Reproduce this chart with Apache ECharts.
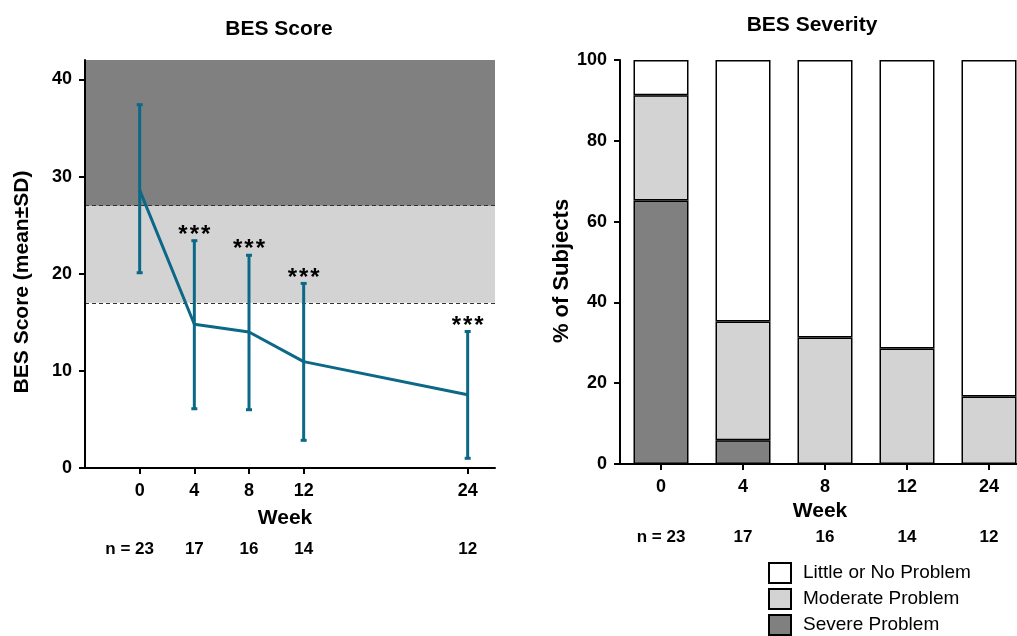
<!DOCTYPE html>
<html>
<head>
<meta charset="utf-8">
<script src="https://cdn.jsdelivr.net/npm/echarts@6/dist/echarts.js"></script>
<style>
html,body{margin:0;padding:0;background:#fff;}
#chart{width:1017px;height:636px;}
#err{position:absolute;left:0;top:0;font:11px monospace;white-space:pre-wrap;width:1000px;color:red;}
</style>
</head>
<body>
<div id="chart"></div>
<div id="err"></div>
<script>
window.onerror = function(msg, src, line, col, e){ document.getElementById('err').textContent += (e && e.stack) || msg; };
// ---- data ----
const weeks = [0, 4, 8, 12, 24];
const weekLabels = ['0', '4', '8', '12', '24'];
const nLabels = ['n = 23', '17', '16', '14', '12'];
const meanScore = [28.6, 14.8, 14.0, 10.95, 7.55];
const sdLow = [20.1, 6.1, 6.0, 2.85, 1.0];
const sdHigh = [37.4, 23.4, 21.9, 19.0, 14.05];
const stars = ['', '***', '***', '***', '***'];
const moderateBand = [17, 27];
const severeBand = [27, 42];
const scoreTicks = [0, 10, 20, 30, 40];
const severe = [65.2, 5.9, 0, 0, 0];
const moderate = [26.1, 29.4, 31.3, 28.6, 16.7];
const little = [8.7, 64.7, 68.7, 71.4, 83.3];
const legendNames = ['Little or No Problem', 'Moderate Problem', 'Severe Problem'];

const FONT = '"Liberation Sans", Arial, Helvetica, sans-serif';
const TEAL = '#0b6886';
const DARK = '#808080';
const LIGHT = '#d3d3d3';

const chart = echarts.init(document.getElementById('chart'), null, {renderer: 'canvas'});

const boldText = (size) => ({fontFamily: FONT, fontWeight: 'bold', fontSize: size, color: '#000'});

const option = {
  animation: false,
  backgroundColor: '#fff',
  textStyle: {fontFamily: FONT},
  title: [
    {text: 'BES Score', left: 274, top: 14, textAlign: 'center', textStyle: boldText(21)},
    {text: 'BES Severity', left: 807, top: 10, textAlign: 'center', textStyle: boldText(21)}
  ],
  legend: {
    data: legendNames,
    orient: 'vertical',
    left: 768,
    top: 562,
    height: 80,
    padding: 0,
    itemWidth: 22,
    itemHeight: 20,
    itemGap: 4,
    icon: 'rect',
    itemStyle: {borderColor: '#000', borderWidth: 2},
    textStyle: {fontFamily: FONT, fontSize: 19, lineHeight: 20, color: '#000', padding: [0, 0, 0, 7]}
  },
  grid: [
    {left: 85, top: 60, width: 410, height: 408, containLabel: false, outerBoundsMode: 'none'},
    {left: 620, top: 60, width: 410, height: 404, containLabel: false, outerBoundsMode: 'none'}
  ],
  xAxis: [
    {
      gridIndex: 0, type: 'value', min: -4, max: 26, interval: 4, z: 10,
      name: 'Week', nameLocation: 'middle', nameGap: 40,
      nameTextStyle: Object.assign(boldText(21), {padding: [0, 10, 0, 0]}),
      axisLine: {show: true, onZero: false, lineStyle: {color: '#000', width: 2}},
      axisTick: {show: true, length: 6, customValues: weeks, lineStyle: {color: '#000', width: 2}},
      axisLabel: Object.assign(boldText(18), {margin: 14, customValues: weeks}),
      splitLine: {show: false}
    },
    {
      gridIndex: 0, type: 'value', min: -4, max: 26, interval: 4, position: 'bottom', offset: 61,
      axisLine: {show: false}, axisTick: {show: false}, splitLine: {show: false},
      axisLabel: Object.assign(boldText(17), {
        margin: 12, customValues: weeks,
        formatter: (v) => {
          const i = weeks.indexOf(v);
          if (i < 0) return '';
          return i === 0 ? '{s|' + nLabels[i] + '}' : nLabels[i];
        },
        rich: {s: Object.assign(boldText(17), {padding: [0, 20, 0, 0]})}
      })
    },
    {
      gridIndex: 1, type: 'category', data: weekLabels, boundaryGap: true, z: 10,
      name: 'Week', nameLocation: 'middle', nameGap: 32,
      nameTextStyle: Object.assign(boldText(21), {padding: [0, 10, 0, 0]}),
      axisLine: {show: true, onZero: false, lineStyle: {color: '#000', width: 2}},
      axisTick: {show: true, alignWithLabel: true, length: 6, lineStyle: {color: '#000', width: 2}},
      axisLabel: Object.assign(boldText(18), {margin: 14}),
      splitLine: {show: false}
    },
    {
      gridIndex: 1, type: 'category', data: nLabels, position: 'bottom', offset: 53,
      axisLine: {show: false}, axisTick: {show: false}, splitLine: {show: false},
      axisLabel: Object.assign(boldText(17), {margin: 12})
    }
  ],
  yAxis: [
    {
      gridIndex: 0, type: 'value', min: 0, max: 42, interval: 10, z: 10,
      name: 'BES Score (mean±SD)', nameLocation: 'middle', nameGap: 52,
      nameTextStyle: Object.assign(boldText(21), {padding: [0, 36, 0, 0]}),
      axisLine: {show: true, onZero: false, lineStyle: {color: '#000', width: 2}},
      axisTick: {show: true, length: 6, customValues: scoreTicks, lineStyle: {color: '#000', width: 2}},
      axisLabel: Object.assign(boldText(18), {margin: 13, customValues: scoreTicks}),
      splitLine: {show: false}
    },
    {
      gridIndex: 1, type: 'value', min: 0, max: 100, interval: 20, z: 10,
      name: '% of Subjects', nameLocation: 'middle', nameGap: 46,
      nameTextStyle: Object.assign(boldText(22), {padding: [0, 18, 0, 0]}),
      axisLine: {show: true, onZero: false, lineStyle: {color: '#000', width: 2}},
      axisTick: {show: true, length: 6, lineStyle: {color: '#000', width: 2}},
      axisLabel: Object.assign(boldText(18), {margin: 13}),
      splitLine: {show: false}
    }
  ],
  series: [
    {
      name: 'bands', type: 'line', xAxisIndex: 0, yAxisIndex: 0, data: [], z: 1,
      silent: true,
      markArea: {
        silent: true,
        data: [
          [{yAxis: moderateBand[0], itemStyle: {color: LIGHT}}, {yAxis: moderateBand[1]}],
          [{yAxis: severeBand[0], itemStyle: {color: DARK}}, {yAxis: severeBand[1]}]
        ]
      },
      markLine: {
        silent: true, symbol: 'none', label: {show: false},
        lineStyle: {color: '#333', type: [4, 3], width: 1},
        data: [{yAxis: moderateBand[0]}, {yAxis: moderateBand[1]}]
      }
    },
    {
      name: 'mean', type: 'line', xAxisIndex: 0, yAxisIndex: 0, z: 5,
      data: weeks.map((w, i) => [w, meanScore[i]]),
      symbol: 'none',
      lineStyle: {color: TEAL, width: 3},
      itemStyle: {color: TEAL}
    },
    {
      name: 'sd', type: 'custom', xAxisIndex: 0, yAxisIndex: 0, z: 6,
      data: weeks.map((w, i) => [w, sdLow[i], sdHigh[i], i]),
      renderItem: (params, api) => {
        const x = api.value(0);
        const lo = api.coord([x, api.value(1)]);
        const hi = api.coord([x, api.value(2)]);
        const idx = api.value(3);
        const st = {stroke: TEAL, lineWidth: 3};
        const children = [
          {type: 'line', shape: {x1: lo[0], y1: lo[1], x2: hi[0], y2: hi[1]}, style: st},
          {type: 'line', shape: {x1: lo[0] - 3, y1: lo[1], x2: lo[0] + 3, y2: lo[1]}, style: st},
          {type: 'line', shape: {x1: hi[0] - 3, y1: hi[1], x2: hi[0] + 3, y2: hi[1]}, style: st}
        ];
        const chars = stars[idx].split('');
        chars.forEach((c, k) => {
          children.push({type: 'text', style: {
            text: c, x: hi[0] + (k - (chars.length - 1) / 2) * 11.3, y: hi[1] - 5.5,
            align: 'center', verticalAlign: 'middle',
            font: 'bold 24px ' + FONT, fill: '#000'
          }});
        });
        return {type: 'group', children};
      }
    },
    {
      name: 'Severe Problem', type: 'bar', xAxisIndex: 2, yAxisIndex: 1, stack: 'sev',
      barWidth: 55, data: severe,
      itemStyle: {color: DARK, borderColor: '#000', borderWidth: 1.5}
    },
    {
      name: 'Moderate Problem', type: 'bar', xAxisIndex: 2, yAxisIndex: 1, stack: 'sev',
      barWidth: 55, data: moderate,
      itemStyle: {color: LIGHT, borderColor: '#000', borderWidth: 1.5}
    },
    {
      name: 'Little or No Problem', type: 'bar', xAxisIndex: 2, yAxisIndex: 1, stack: 'sev',
      barWidth: 55, data: little,
      itemStyle: {color: '#fff', borderColor: '#000', borderWidth: 1.5}
    }
  ]
};
try { chart.setOption(option); } catch (e) { document.getElementById('err').textContent += e.stack; }
</script>
</body>
</html>
